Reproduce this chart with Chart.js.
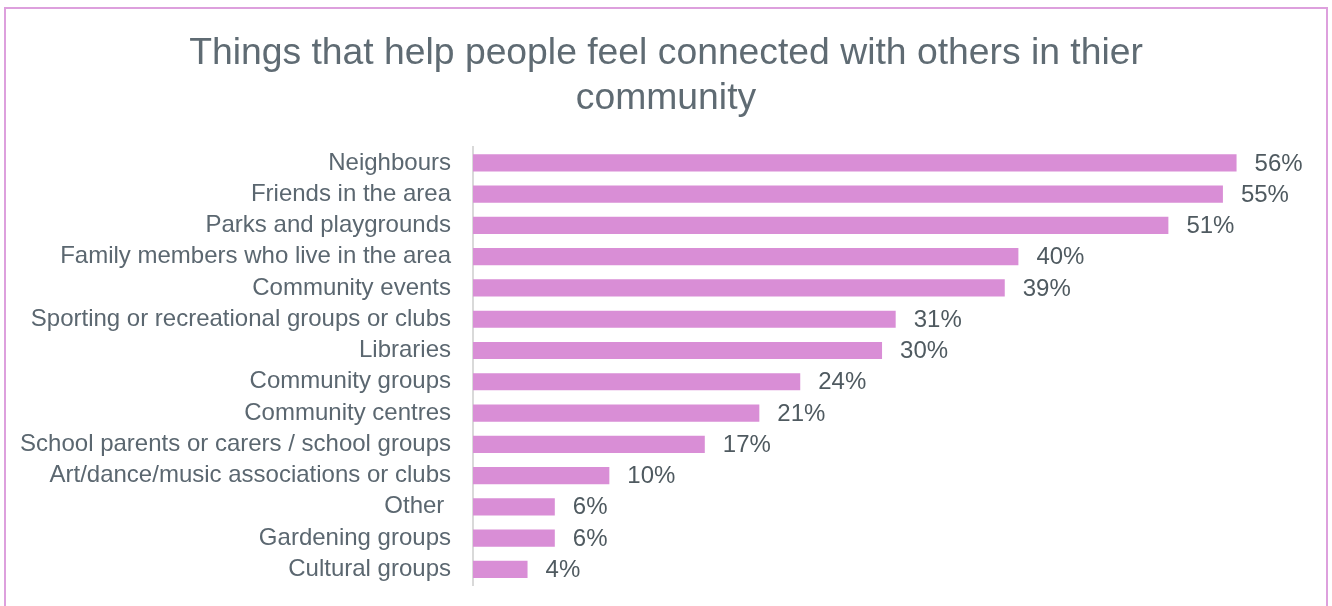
<!DOCTYPE html>
<html>
<head>
<meta charset="utf-8">
<script src="https://cdn.jsdelivr.net/npm/chart.js@4/dist/chart.umd.min.js"></script>
<style>
  html, body { margin: 0; padding: 0; background: #fff; overflow: hidden; }
  #wrap { position: relative; width: 1332px; height: 606px; }
  #frame { position: absolute; left: 4px; top: 7px; width: 1324px; height: 620px; border: 2px solid #dda0dd; box-sizing: border-box; pointer-events: none; }
  canvas { position: absolute; left: 0; top: 0; }
</style>
</head>
<body>
<div id="wrap">
  <canvas id="chart" width="1332" height="606"></canvas>
  <div id="frame"></div>
</div>
<script>
// Survey answers, share of respondents (%)
const categories = [
    'Neighbours',
    'Friends in the area',
    'Parks and playgrounds',
    'Family members who live in the area',
    'Community events',
    'Sporting or recreational groups or clubs',
    'Libraries',
    'Community groups',
    'Community centres',
    'School parents or carers / school groups',
    'Art/dance/music associations or clubs',
    'Other ',
    'Gardening groups',
    'Cultural groups'
];
const percentages = [56, 55, 51, 40, 39, 31, 30, 24, 21, 17, 10, 6, 6, 4];
const titleLines = ['Things that help people feel connected with others in thier', 'community'];

const FONT = '"Liberation Sans", Arial, sans-serif';

// writes "NN%" just past the end of each bar
const valueLabels = {
    id: 'valueLabels',
    afterDatasetsDraw(chart) {
        const ctx = chart.ctx;
        const meta = chart.getDatasetMeta(0);
        ctx.save();
        ctx.font = '24px ' + FONT;
        ctx.fillStyle = '#4f5a60';
        ctx.textAlign = 'left';
        ctx.textBaseline = 'middle';
        meta.data.forEach((bar, i) => {
            ctx.fillText(percentages[i] + '%', bar.x + 18, bar.y + 1);
        });
        ctx.restore();
    }
};

new Chart(document.getElementById('chart'), {
    type: 'bar',
    data: {
        labels: categories,
        datasets: [{
            data: percentages,
            backgroundColor: '#d98ed6',
            borderWidth: 0,
            categoryPercentage: 1,
            barPercentage: 0.55
        }]
    },
    options: {
        indexAxis: 'y',
        responsive: false,
        animation: false,
        layout: { padding: { top: 31, right: 0, bottom: 21, left: 0 } },
        plugins: {
            legend: { display: false },
            tooltip: { enabled: false },
            title: {
                display: true,
                text: titleLines,
                color: '#5f6b73',
                font: { family: FONT, size: 37.3, weight: 'normal', lineHeight: 1.21 },
                padding: { top: 0, bottom: 26 }
            }
        },
        scales: {
            x: { display: false, min: 0, max: 63 },
            y: {
                afterFit(scale) {
                    // fixed label column; no extra room for the end labels
                    scale.width = 473;
                    scale.paddingTop = 0;
                    scale.paddingBottom = 0;
                },
                grid: { display: true, drawOnChartArea: false, drawTicks: false },
                border: { display: true, color: '#d9d9d9', width: 2 },
                ticks: {
                    autoSkip: false,
                    padding: 22,
                    color: '#5b6770',
                    font: { family: FONT, size: 24 }
                }
            }
        }
    },
    plugins: [valueLabels]
});
</script>
</body>
</html>
